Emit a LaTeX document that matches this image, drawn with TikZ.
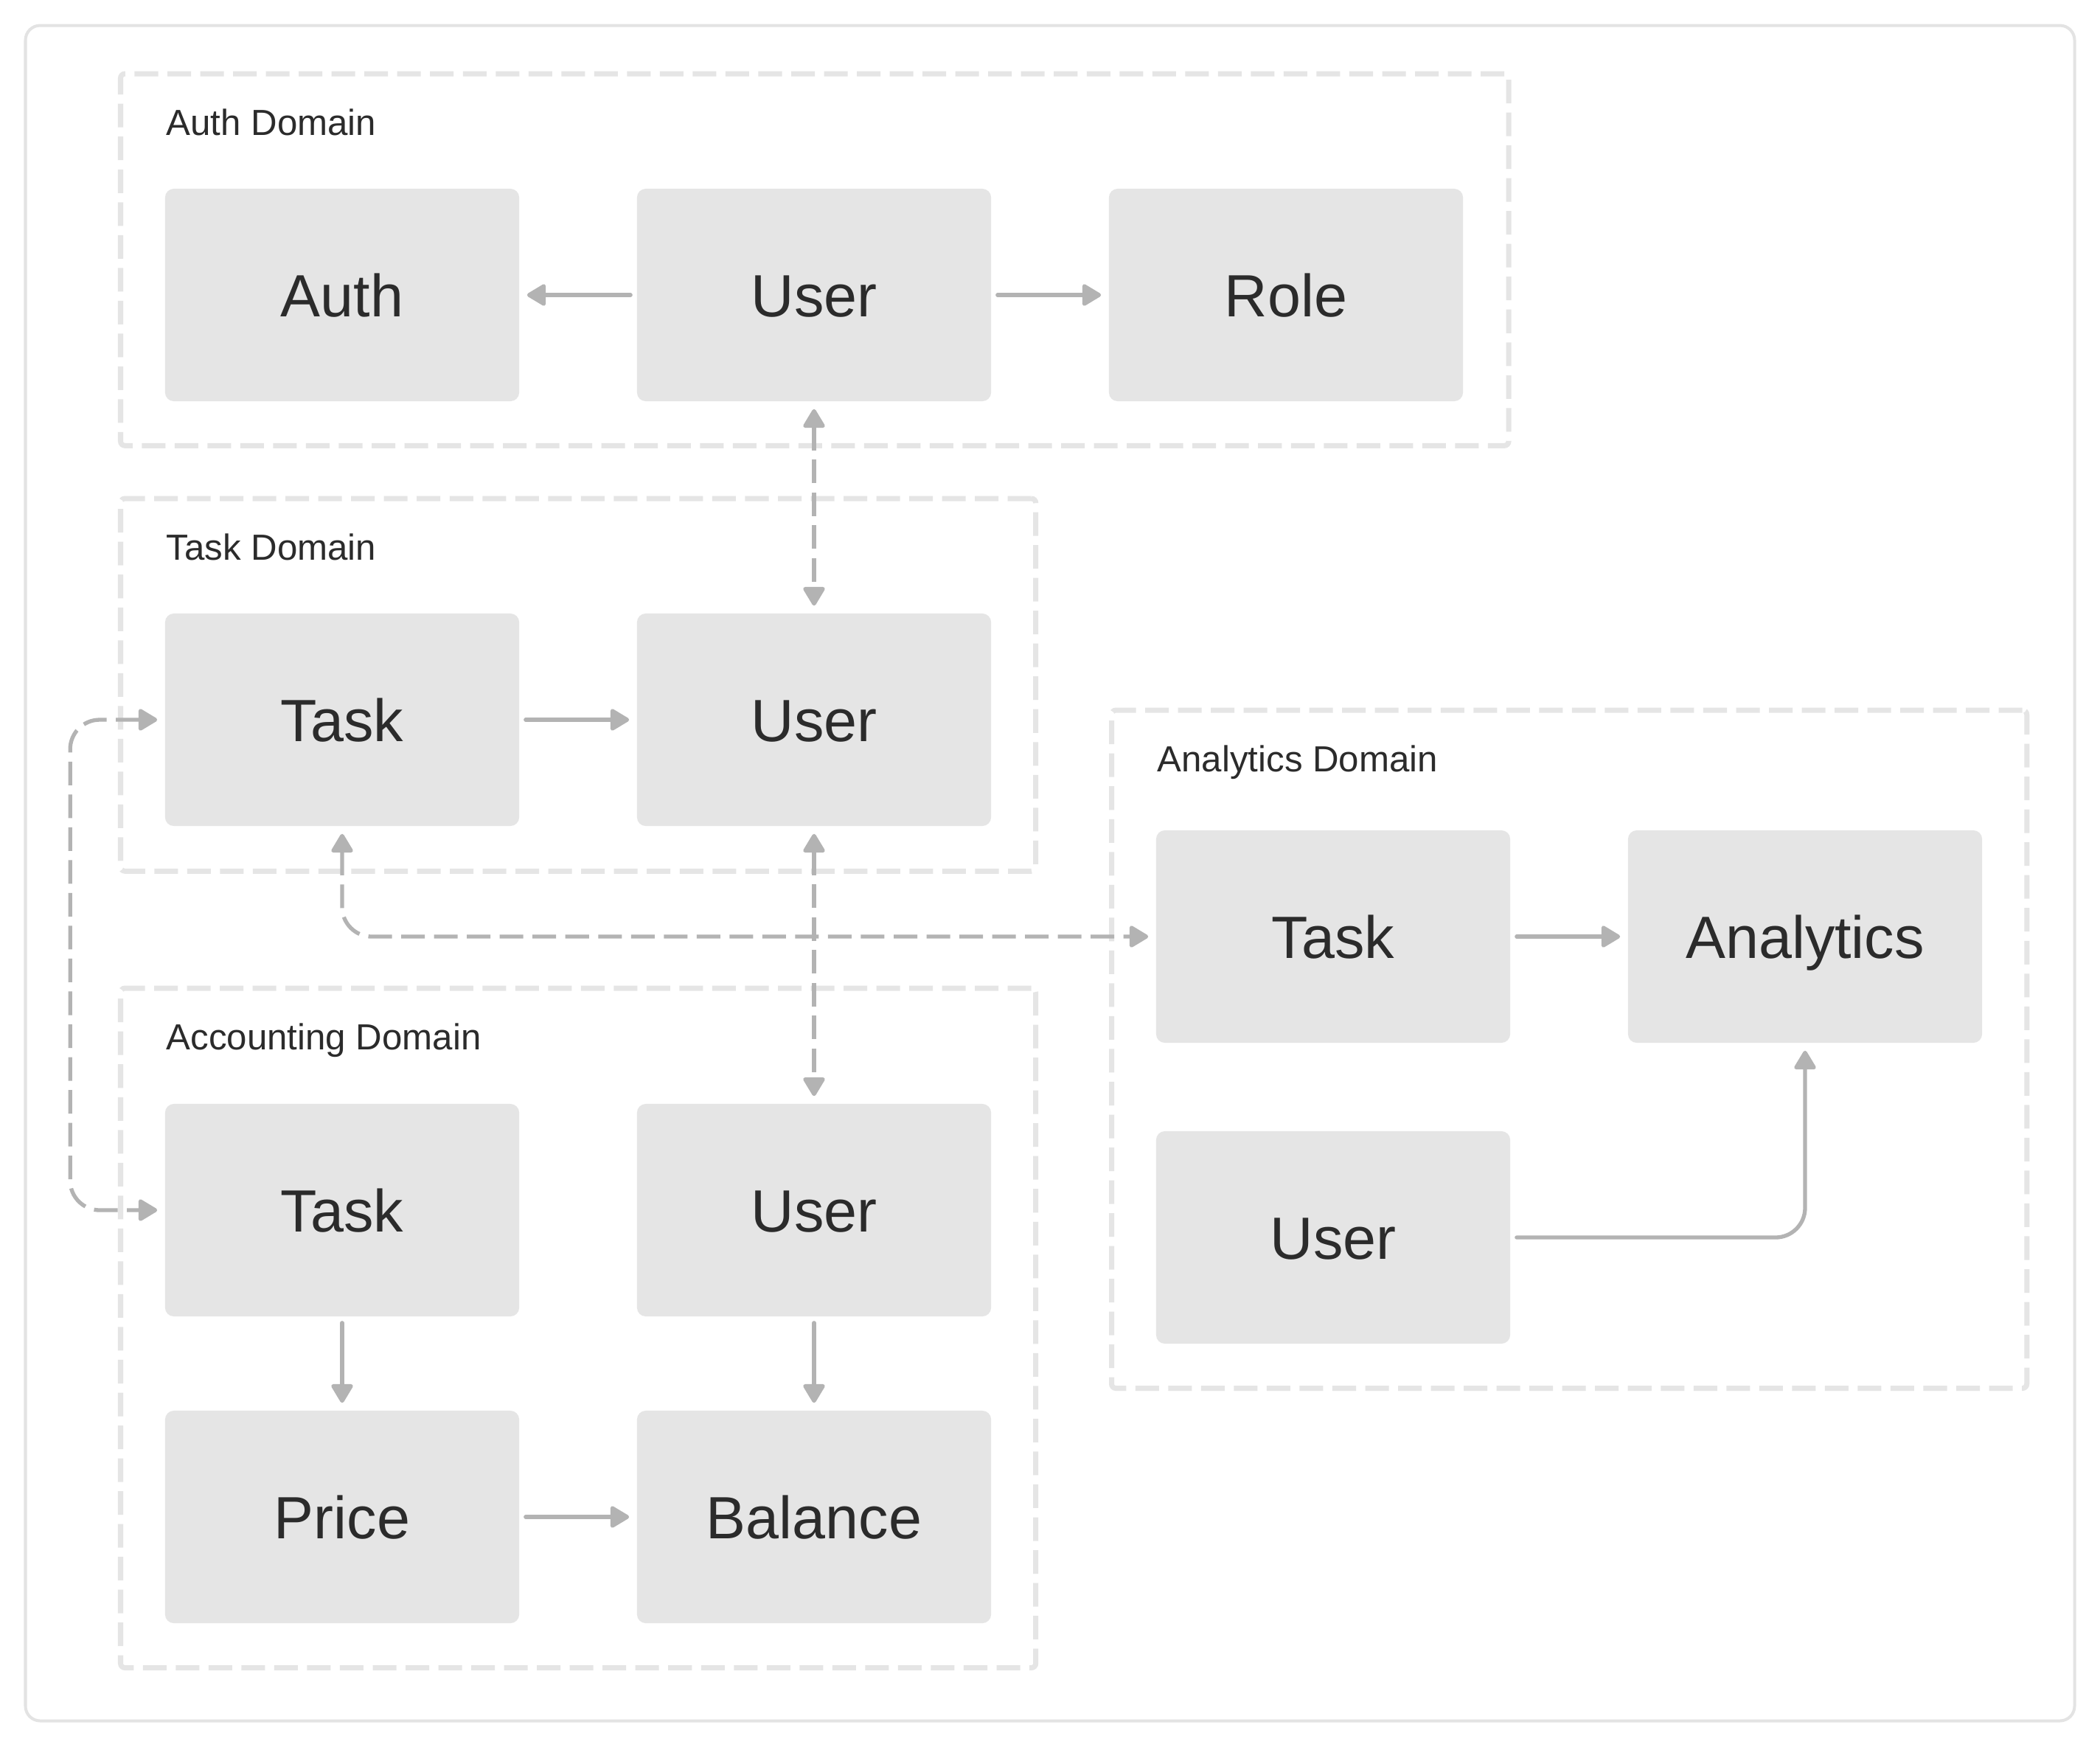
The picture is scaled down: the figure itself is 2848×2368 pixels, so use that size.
\documentclass[tikz,border=0pt]{standalone}
\usepackage{fontspec}
\setmainfont{Liberation Sans}
\usetikzlibrary{arrows.meta,calc}
\definecolor{nodefill}{HTML}{E5E5E5}
\definecolor{txt}{HTML}{2B2B2B}
\definecolor{conn}{HTML}{B3B3B3}
\definecolor{dom}{HTML}{E5E5E5}
\definecolor{framec}{HTML}{E3E3E3}
\begin{document}
\begin{tikzpicture}[x=0.01cm,y=-0.01cm,
  box/.style={fill=nodefill, rounded corners=0.12cm, minimum width=4.8cm, minimum height=2.88cm,
    inner sep=0pt, text=txt, font=\fontsize{23}{27}\selectfont, text height=0.58cm, text depth=0cm},
  dombox/.style={draw=dom, line width=0.07cm, dash pattern=on 0.32cm off 0.125cm,
    rounded corners=0.06cm, inner sep=0pt, outer sep=0pt, anchor=north west},
  lbl/.style={anchor=base west, inner sep=0pt, text=txt, font=\fontsize{14}{17}\selectfont},
  mytip/.tip={Triangle[length=0.28cm,width=0.32cm,round]},
  arr/.style={draw=conn, line width=0.053cm, line cap=round, -mytip, shorten >=0.1cm, shorten <=0.08cm},
  darr/.style={arr, line cap=butt, mytip-mytip, shorten <=0.1cm, dash pattern=on 0.32cm off 0.125cm, rounded corners=0.4cm},
]
\fill[white] (0,0) rectangle (2848,2368);
\draw[framec, line width=0.04cm, rounded corners=0.2cm] (34.5,34.5) rectangle (2813.5,2333.5);

% domains
\node[dombox, minimum width=18.815cm, minimum height=5.04cm] (authD) at (163.5,100) {};
\node[dombox, minimum width=12.405cm, minimum height=5.05cm] (taskD) at (163.5,676) {};
\node[dombox, minimum width=12.405cm, minimum height=9.21cm] (accD) at (163.5,1340) {};
\node[dombox, minimum width=12.405cm, minimum height=9.19cm] (anD) at (1507.5,963) {};

\node[lbl] (authL) at (225,183) {Auth Domain};
\node[lbl] (taskL) at (225,759) {Task Domain};
\node[lbl] (accL) at (225,1423) {Accounting Domain};
\node[lbl] (anL) at (1569,1046) {Analytics Domain};

% nodes
\node[box] (auth) at (464,400) {Auth};
\node[box] (authUser) at (1104,400) {User};
\node[box] (role) at (1744,400) {Role};
\node[box] (taskTask) at (464,976) {Task};
\node[box] (taskUser) at (1104,976) {User};
\node[box] (accTask) at (464,1641) {Task};
\node[box] (accUser) at (1104,1641) {User};
\node[box] (price) at (464,2057) {Price};
\node[box] (balance) at (1104,2057) {Balance};
\node[box] (anTask) at (1808,1270) {Task};
\node[box] (analytics) at (2448,1270) {Analytics};
\node[box] (anUser) at (1808,1678) {User};

% connectors
\draw[arr] (authUser) -- (auth);
\draw[arr] (authUser) -- (role);
\draw[darr] (authUser) -- (taskUser);
\draw[arr] (taskTask) -- (taskUser);
\draw[darr] (taskUser) -- (accUser);
\draw[darr] (taskTask.south) |- (anTask.west);
\draw[darr] (taskTask.west) -- ++(-128,0) |- (accTask.west);
\draw[arr] (accTask) -- (price);
\draw[arr] (accUser) -- (balance);
\draw[arr] (price) -- (balance);
\draw[arr] (anTask) -- (analytics);
\draw[arr, rounded corners=0.4cm] (anUser.east) -| (analytics.south);
\end{tikzpicture}
\end{document}
